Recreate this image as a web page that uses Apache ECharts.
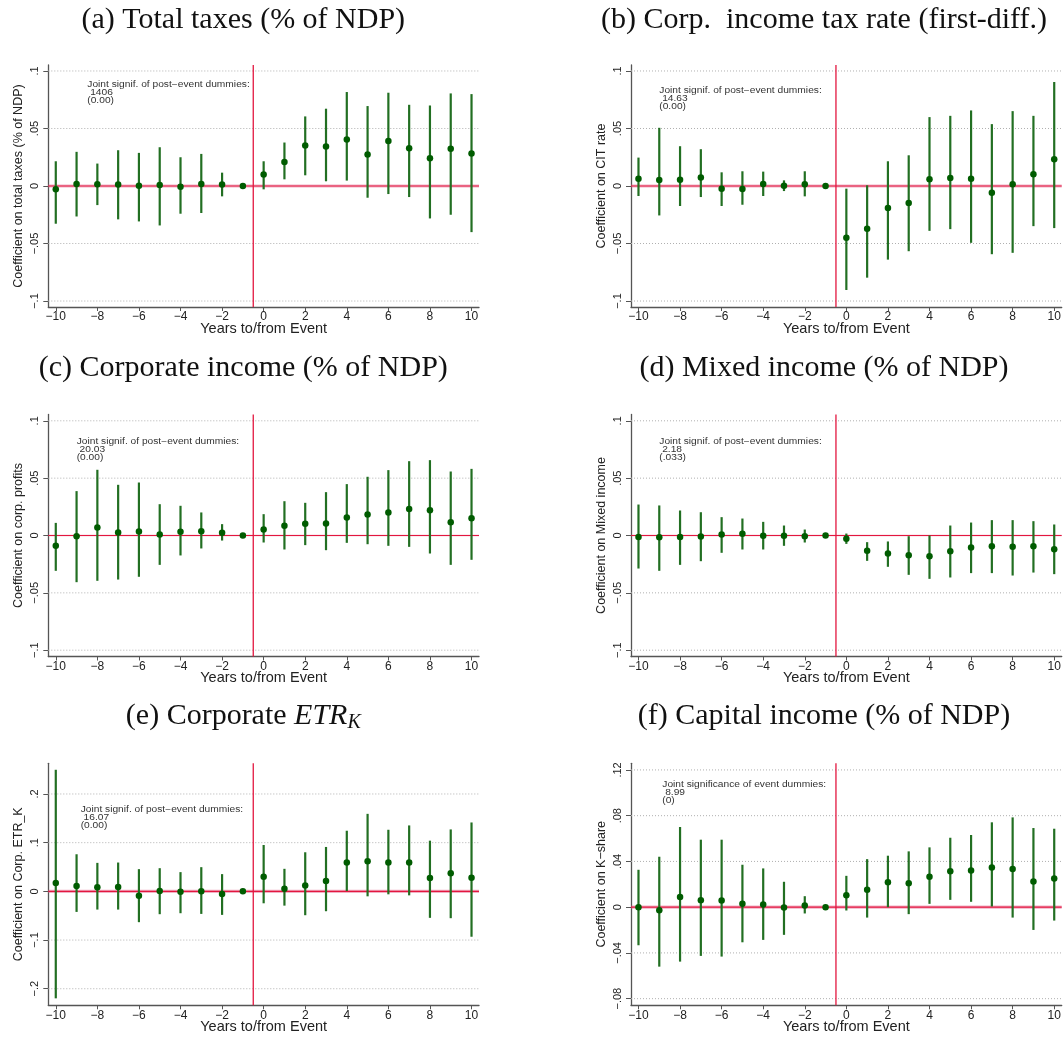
<!DOCTYPE html>
<html>
<head>
<meta charset="utf-8">
<script src="https://cdn.jsdelivr.net/npm/echarts@6/dist/echarts.min.js"></script>
<style>
html,body{margin:0;padding:0;background:#fff;}
#chart{width:1063px;height:1038px;}
</style>
</head>
<body>
<div id="chart"></div>
<script>
// ---------- DATA ----------
const years = [-10,-9,-8,-7,-6,-5,-4,-3,-2,-1,0,1,2,3,4,5,6,7,8,9,10];

// (a) Total taxes (% of NDP)
const taxCoef = [-0.0029,0.0017,0.0015,0.0012,0.0003,0.0009,-0.0006,0.0017,0.0012,0,0.0099,0.0209,0.0352,0.0343,0.0404,0.0273,0.0392,0.0328,0.0241,0.0323,0.0282];
const taxLo   = [-0.0328,-0.0265,-0.0166,-0.0290,-0.0308,-0.0343,-0.0241,-0.0235,-0.0090,0,-0.0029,0.0058,0.0093,0.0041,0.0047,-0.0102,-0.0070,-0.0096,-0.0282,-0.0250,-0.0401];
const taxHi   = [0.0215,0.0297,0.0195,0.0311,0.0288,0.0337,0.0250,0.0279,0.0116,0,0.0215,0.0378,0.0605,0.0672,0.0817,0.0695,0.0811,0.0706,0.0700,0.0805,0.0799];

// (b) Corp. income tax rate (first-diff.)
const citCoef = [0.0064,0.0052,0.0055,0.0073,-0.0023,-0.0026,0.0017,0.0003,0.0015,0,-0.0451,-0.0372,-0.0192,-0.0148,0.0058,0.0070,0.0064,-0.0058,0.0015,0.0102,0.0233];
const citLo   = [-0.0087,-0.0256,-0.0174,-0.0096,-0.0174,-0.0163,-0.0087,-0.0044,-0.0090,0,-0.0904,-0.0797,-0.0640,-0.0567,-0.0390,-0.0375,-0.0494,-0.0593,-0.0581,-0.0349,-0.0366];
const citHi   = [0.0247,0.0506,0.0346,0.0320,0.0119,0.0128,0.0125,0.0049,0.0128,0,-0.0023,0.0006,0.0215,0.0267,0.0599,0.0610,0.0657,0.0538,0.0651,0.0610,0.0904];

// (c) Corporate income (% of NDP)
const corpCoef = [-0.0090,-0.0006,0.0070,0.0026,0.0035,0.0009,0.0032,0.0038,0.0023,0,0.0052,0.0084,0.0102,0.0105,0.0157,0.0183,0.0201,0.0230,0.0221,0.0116,0.0151];
const corpLo   = [-0.0308,-0.0407,-0.0395,-0.0384,-0.0360,-0.0256,-0.0174,-0.0113,-0.0044,0,-0.0061,-0.0122,-0.0084,-0.0128,-0.0064,-0.0076,-0.0090,-0.0099,-0.0157,-0.0256,-0.0212];
const corpHi   = [0.0110,0.0387,0.0573,0.0442,0.0462,0.0273,0.0259,0.0201,0.0099,0,0.0186,0.0299,0.0285,0.0378,0.0448,0.0512,0.0570,0.0648,0.0657,0.0558,0.0581];

// (d) Mixed income (% of NDP)
const mixCoef = [-0.0012,-0.0015,-0.0012,-0.0009,0.0009,0.0015,-0.0003,-0.0003,-0.0006,0,-0.0029,-0.0134,-0.0157,-0.0172,-0.0180,-0.0137,-0.0105,-0.0093,-0.0099,-0.0093,-0.0119];
const mixLo   = [-0.0288,-0.0308,-0.0256,-0.0224,-0.0151,-0.0122,-0.0122,-0.0090,-0.0061,0,-0.0073,-0.0221,-0.0273,-0.0343,-0.0378,-0.0366,-0.0328,-0.0328,-0.0349,-0.0323,-0.0337];
const mixHi   = [0.0270,0.0262,0.0218,0.0203,0.0160,0.0148,0.0119,0.0087,0.0052,0,0.0017,-0.0058,-0.0052,-0.0006,0.0000,0.0087,0.0113,0.0134,0.0134,0.0125,0.0096];

// (e) Corporate ETR_K
const etrCoef = [0.0170,0.0109,0.0082,0.0088,-0.0088,0.0007,-0.0007,0.0000,-0.0054,0,0.0299,0.0054,0.0122,0.0211,0.0592,0.0619,0.0592,0.0592,0.0272,0.0374,0.0279];
const etrLo   = [-0.2197,-0.0422,-0.0374,-0.0374,-0.0633,-0.0469,-0.0449,-0.0463,-0.0483,0,-0.0245,-0.0293,-0.0490,-0.0408,0.0007,-0.0102,-0.0061,-0.0082,-0.0544,-0.0551,-0.0932];
const etrHi   = [0.2497,0.0762,0.0585,0.0592,0.0456,0.0476,0.0395,0.0497,0.0354,0,0.0952,0.0463,0.0803,0.0912,0.1245,0.1592,0.1265,0.1354,0.1041,0.1272,0.1415];

// (f) Capital income (% of NDP)
const kCoef = [0.0000,-0.0026,0.0088,0.0061,0.0058,0.0029,0.0023,-0.0003,0.0015,0,0.0105,0.0152,0.0219,0.0210,0.0266,0.0315,0.0321,0.0347,0.0333,0.0225,0.0251];
const kLo   = [-0.0333,-0.0520,-0.0476,-0.0426,-0.0432,-0.0307,-0.0286,-0.0242,-0.0055,0,-0.0029,-0.0091,0.0000,-0.0061,0.0029,0.0064,0.0047,0.0006,-0.0091,-0.0199,-0.0117];
const kHi   = [0.0327,0.0441,0.0701,0.0590,0.0590,0.0371,0.0339,0.0222,0.0096,0,0.0274,0.0420,0.0450,0.0488,0.0523,0.0607,0.0631,0.0742,0.0785,0.0692,0.0686];

// tick values
const xTicks = [-10,-8,-6,-4,-2,0,2,4,6,8,10];
const yTicksPct = [-0.1,-0.05,0,0.05,0.1];
const yTicksEtr = [-0.2,-0.1,0,0.1,0.2];
const yTicksK = [-0.08,-0.04,0,0.04,0.08,0.12];

// reference lines: event line (between -1 and 0) and zero line
const eventLineX = -0.5;
const zeroLineY = 0;

// texts
const titles = ['(a) Total taxes (% of NDP)','(b) Corp.  income tax rate (first-diff.)','(c) Corporate income (% of NDP)','(d) Mixed income (% of NDP)','(e) Corporate {it|ETR}{sub|K}','(f) Capital income (% of NDP)'];
const yNames = ['Coefficient on total taxes (% of NDP)','Coefficient on CIT rate','Coefficient on corp. profits','Coefficient on Mixed income','Coefficient on Corp. ETR_K','Coefficient on K\u2212share'];
const notes = [
  ['Joint signif. of post\u2212event dummies:',' 1406','(0.00)'],
  ['Joint signif. of post\u2212event dummies:',' 14.63','(0.00)'],
  ['Joint signif. of post\u2212event dummies:',' 20.03','(0.00)'],
  ['Joint signif. of post\u2212event dummies:',' 2.18','(.033)'],
  ['Joint signif. of post\u2212event dummies:',' 16.07','(0.00)'],
  ['Joint significance of event dummies:',' 8.99','(0)']
];
const xName = 'Years to/from Event';

// ---------- LAYOUT / STYLE ----------
const SANS = 'Liberation Sans, Arial, Helvetica, sans-serif';
const SERIF = 'Liberation Serif, Times New Roman, serif';
const colLeft = [48.3, 631];
const rowTop = [65, 414.5, 763.3];
const gridW = 430.7, gridH = 242;
const titleX = [243.3, 824];
const titleY = [20.3, 367.8, 716.2];
const notePos = [[87.3,80.3],[659.3,87],[76.7,437.7],[659.3,437.7],[80.7,806],[662.3,781]];

const panels = [
  {coef: taxCoef, lo: taxLo, hi: taxHi, ticks: yTicksPct, ymin: -0.1052, ymax: 0.1052, halo: 0.5},
  {coef: citCoef, lo: citLo, hi: citHi, ticks: yTicksPct, ymin: -0.1052, ymax: 0.1052, halo: 0.5},
  {coef: corpCoef, lo: corpLo, hi: corpHi, ticks: yTicksPct, ymin: -0.1055, ymax: 0.1055, halo: 0.18},
  {coef: mixCoef, lo: mixLo, hi: mixHi, ticks: yTicksPct, ymin: -0.1055, ymax: 0.1055, halo: 0.18},
  {coef: etrCoef, lo: etrLo, hi: etrHi, ticks: yTicksEtr, ymin: -0.234, ymax: 0.263, halo: 0.5},
  {coef: kCoef, lo: kLo, hi: kHi, ticks: yTicksK, ymin: -0.0858, ymax: 0.1258, halo: 0.5}
];

const BAR = '#226f22';
const DOT = '#005c00';
const RED = '#e3173f';
const AX = '#555';

function fmtY(v){
  if (Math.abs(v) < 1e-12) return '0';
  let s = String(Math.abs(+v.toFixed(4))).replace(/^0/, '');
  return (v < 0 ? '\u2212' : '') + s;
}
function fmtX(v){ return v < 0 ? '\u2212' + Math.abs(v) : String(v); }

const grid = [], xAxis = [], yAxis = [], series = [], graphic = [];

panels.forEach((p, i) => {
  const col = i % 2, row = Math.floor(i / 2);
  grid.push({left: colLeft[col], top: rowTop[row], width: gridW, height: gridH, containLabel: false, outerBoundsMode: 'none'});
  xAxis.push({
    type: 'value', gridIndex: i, min: -10.36, max: 10.36,
    axisLine: {show: true, onZero: false, lineStyle: {color: AX, width: 1.3}},
    axisTick: {show: true, customValues: xTicks, length: 4, lineStyle: {color: AX, width: 1}},
    axisLabel: {show: true, customValues: xTicks, margin: 4, fontSize: 12, color: '#222', fontFamily: SANS, formatter: fmtX},
    splitLine: {show: false},
    name: xName, nameLocation: 'middle', nameGap: 14, nameMoveOverlap: false,
    nameTextStyle: {fontSize: 14.5, color: '#222', fontFamily: SANS}
  });
  yAxis.push({
    type: 'value', gridIndex: i, min: p.ymin, max: p.ymax,
    axisLine: {show: true, onZero: false, lineStyle: {color: AX, width: 1.3}},
    axisTick: {show: true, customValues: p.ticks, length: 5, lineStyle: {color: AX, width: 1}},
    axisLabel: {show: true, customValues: p.ticks, rotate: 90, margin: 8, fontSize: 11, color: '#222', fontFamily: SANS, formatter: fmtY},
    splitLine: {show: false},
    name: yNames[i], nameLocation: 'middle', nameRotate: 90, nameGap: 23, nameMoveOverlap: false,
    nameTextStyle: {fontSize: 12.5, color: '#222', fontFamily: SANS}
  });

  // reference lines: kinds 0 dotted gridline, 1 red horizontal, 2 red vertical, 3 pink halo
  const refs = p.ticks.filter(t => Math.abs(t) > 1e-12).map(t => [t, 0]);
  refs.push([zeroLineY, 3]);
  refs.push([zeroLineY, 1]);
  refs.push([eventLineX, 2]);
  const haloAlpha = p.halo;
  series.push({
    type: 'custom', xAxisIndex: i, yAxisIndex: i, z: 1, silent: true,
    data: refs, encode: {x: -1, y: -1},
    renderItem: function(params, api){
      const cs = params.coordSys;
      const v = api.value(0), kind = api.value(1);
      if (kind === 2) {
        const px = api.coord([v, 0])[0];
        return {type: 'line', shape: {x1: px, y1: cs.y, x2: px, y2: cs.y + cs.height}, style: {stroke: RED, lineWidth: 1.3}};
      }
      const py = api.coord([0, v])[1];
      let style;
      if (kind === 0) style = {stroke: '#b0b0b0', lineWidth: 1, lineDash: [1, 2]};
      else if (kind === 1) style = {stroke: RED, lineWidth: 1.1};
      else style = {stroke: 'rgba(228,100,140,' + haloAlpha + ')', lineWidth: haloAlpha > 0.3 ? 3.2 : 2.4};
      return {type: 'line', shape: {x1: cs.x, y1: py, x2: cs.x + cs.width, y2: py}, style};
    }
  });

  // error bars
  series.push({
    type: 'custom', xAxisIndex: i, yAxisIndex: i, z: 3, silent: true,
    data: years.map((y, k) => [y, p.lo[k], p.hi[k]]),
    encode: {x: 0, y: [1, 2]},
    renderItem: function(params, api){
      const a = api.coord([api.value(0), api.value(1)]);
      const b = api.coord([api.value(0), api.value(2)]);
      return {type: 'line', shape: {x1: a[0], y1: a[1], x2: b[0], y2: b[1]}, style: {stroke: BAR, lineWidth: 2.2}};
    }
  });

  // point estimates
  series.push({
    type: 'scatter', xAxisIndex: i, yAxisIndex: i, z: 4, silent: true,
    symbol: 'circle', symbolSize: 6.5,
    itemStyle: {color: DOT, opacity: 1},
    data: years.map((y, k) => [y, p.coef[k]])
  });

  // panel title
  graphic.push({
    type: 'text', x: titleX[col], y: titleY[row], silent: true,
    style: {
      text: titles[i], fill: '#111',
      fontSize: 30, fontFamily: SERIF,
      textAlign: 'center', textVerticalAlign: 'middle',
      rich: {
        it: {fontSize: 30, fontStyle: 'italic', fontFamily: SERIF, fill: '#111'},
        sub: {fontSize: 20, fontStyle: 'italic', fontFamily: SERIF, fill: '#111', padding: [14, 0, 0, 0]}
      }
    }
  });

  // joint significance note
  graphic.push({
    type: 'text', x: notePos[i][0], y: notePos[i][1], scaleX: 1.2, silent: true,
    style: {
      text: notes[i].join('\n'), fill: '#333', fontSize: 8.5, fontFamily: SANS,
      lineHeight: 8, textAlign: 'left', textVerticalAlign: 'top'
    }
  });
});

const chart = echarts.init(document.getElementById('chart'), null, {renderer: 'canvas'});
chart.setOption({
  animation: false,
  backgroundColor: '#fff',
  grid, xAxis, yAxis, series, graphic
});
</script>
</body>
</html>
